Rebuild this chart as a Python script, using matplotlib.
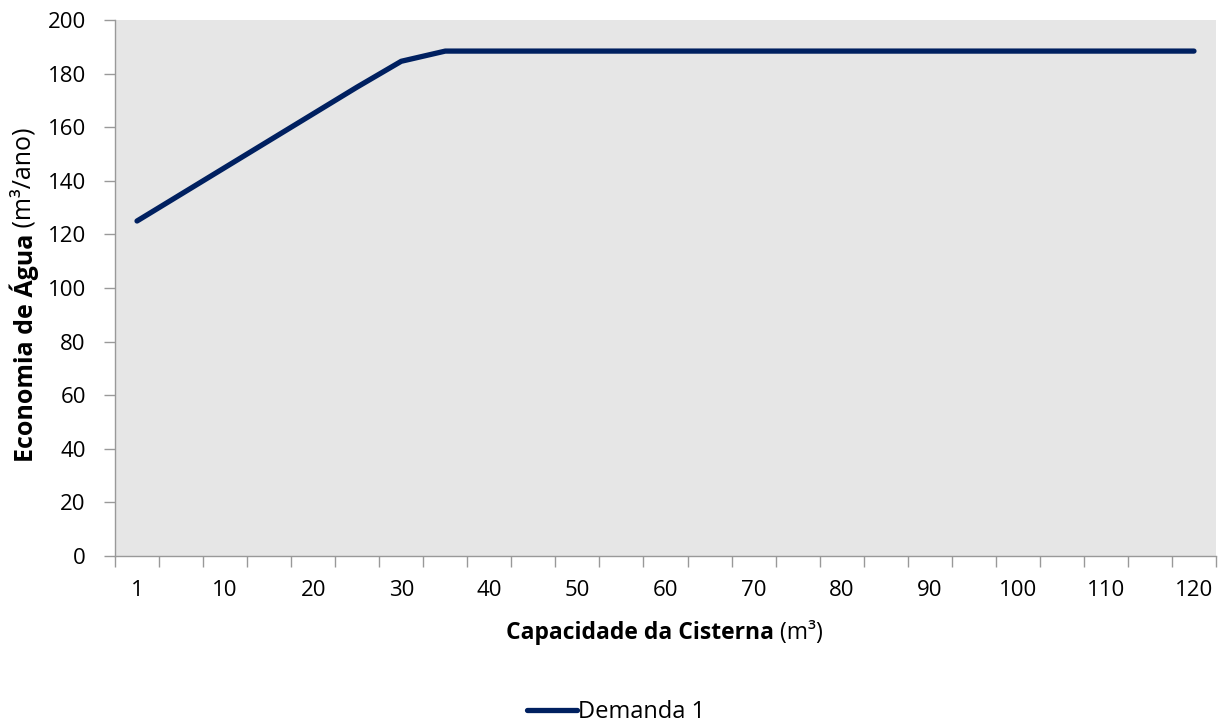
import matplotlib.pyplot as plt
from matplotlib.ticker import FixedLocator, NullFormatter

plt.rcParams['font.family'] = ['Open Sans', 'DejaVu Sans']

# capacidade da cisterna (m3) - eixo de categorias
capacidade = [1, 5, 10, 15, 20, 25, 30, 35, 40, 45, 50, 55, 60, 65, 70,
              75, 80, 85, 90, 95, 100, 105, 110, 115, 120]
# economia de agua (m3/ano)
demanda1 = [125, 135, 145, 155, 165, 175, 184.6, 188.4, 188.4, 188.4, 188.4,
            188.4, 188.4, 188.4, 188.4, 188.4, 188.4, 188.4, 188.4, 188.4,
            188.4, 188.4, 188.4, 188.4, 188.4]
rotulos_x = ['1', '10', '20', '30', '40', '50', '60', '70', '80', '90',
             '100', '110', '120']

W, H = 1224, 726
fig = plt.figure(figsize=(W / 100, H / 100), dpi=100)
ax = fig.add_axes([115 / W, 1 - 556 / H, (1216 - 115) / W, (556 - 20) / H])
ax.set_facecolor('#e6e6e6')

x = list(range(len(capacidade)))
ax.plot(x, demanda1, color='#002060', lw=3.8, solid_capstyle='round',
        solid_joinstyle='round', label='Demanda 1')

ax.set_xlim(-0.5, len(capacidade) - 0.5)
ax.set_ylim(0, 200)
ax.set_yticks(range(0, 201, 20))

# rotulos a cada 2 categorias, marcas entre categorias
ax.set_xticks(x[::2])
ax.set_xticklabels(rotulos_x)
ax.xaxis.set_minor_locator(FixedLocator([i - 0.5 for i in range(len(capacidade) + 1)]))
ax.xaxis.set_minor_formatter(NullFormatter())
ax.tick_params(axis='x', which='major', length=0, pad=17, labelsize=16)
ax.tick_params(axis='x', which='minor', length=8, color='#999999', width=1)
ax.tick_params(axis='y', length=8, color='#999999', width=1, pad=13, labelsize=16)

for s in ['top', 'right']:
    ax.spines[s].set_visible(False)
for s in ['left', 'bottom']:
    ax.spines[s].set_color('#999999')
    ax.spines[s].set_linewidth(1)


def rotulo(partes, cx, cy, rot=0, size=16):
    # partes: lista de (texto, peso); centraliza o conjunto em (cx, cy) px
    r = fig.canvas.get_renderer()
    txts = [fig.text(0, 0, t, fontsize=size, fontweight=w, rotation=rot,
                     ha='left', va='center', rotation_mode='anchor')
            for t, w in partes]
    larg = [t.get_window_extent(r) for t in txts]
    larg = [b.height if rot == 90 else b.width for b in larg]
    pos = -sum(larg) / 2
    for t, l in zip(txts, larg):
        if rot == 90:
            t.set_position((cx / W, 1 - (cy - pos) / H))
        else:
            t.set_position(((cx + pos) / W, 1 - cy / H))
        pos += l


rotulo([('Capacidade da Cisterna', 'bold'), (' (m³)', 'normal')], 664, 633, size=16.5)
rotulo([('Economia de Água', 'bold'), (' (m³/ano)', 'normal')], 24, 295, rot=90, size=18)

leg = fig.legend(loc='center', bbox_to_anchor=(616 / W, 1 - 712 / H),
                 frameon=False, fontsize=17, handlelength=2.1, handletextpad=0.05)

fig.savefig('out.png', dpi=100)
